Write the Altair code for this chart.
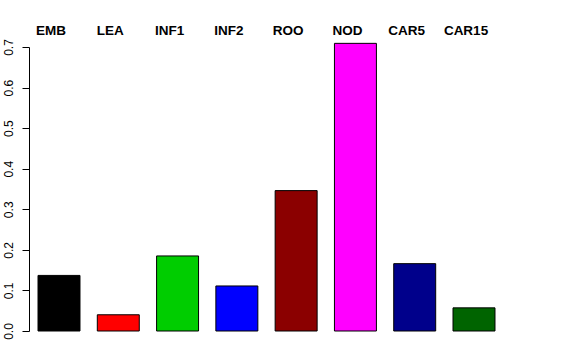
import altair as alt
import pandas as pd

categories = ["EMB", "LEA", "INF1", "INF2", "ROO", "NOD", "CAR5", "CAR15"]
values = [0.137, 0.040, 0.185, 0.111, 0.346, 0.709, 0.166, 0.057]
colors = ["#000000", "#FF0000", "#00CD00", "#0000FF", "#8B0000", "#FF00FF", "#00008B", "#006400"]
y_ticks = [0.0, 0.1, 0.2, 0.3, 0.4, 0.5, 0.6, 0.7]

df = pd.DataFrame({"cat": categories, "val": values, "col": colors})

chart = alt.Chart(df).mark_bar(stroke="black", strokeWidth=1).encode(
    x=alt.X("cat:N", sort=categories,
            scale=alt.Scale(paddingInner=0.292, paddingOuter=0.152),
            axis=alt.Axis(orient="top", title=None, domain=False, ticks=False, tickSize=0,
                          labelAngle=0, labelFont="Liberation Sans", labelFontWeight="bold",
                          labelFontSize=13.5, labelColor="black", labelPadding=10, labelOffset=-8)),
    y=alt.Y("val:Q", scale=alt.Scale(domain=[0, 0.7], nice=False, zero=True),
            axis=alt.Axis(title=None, values=y_ticks, format=".1f", grid=False,
                          domainColor="black", tickColor="black", tickSize=7,
                          labelAngle=-90, labelAlign="center", labelBaseline="bottom",
                          labelFont="Liberation Sans", labelFontSize=12, labelColor="black",
                          labelPadding=7)),
    color=alt.Color("col:N", scale=None, legend=None),
).properties(
    width=475, height=284,
    background="white",
    autosize=alt.AutoSizeParams(type="none"),
    padding={"left": 29, "top": 47, "right": 72, "bottom": 29},
).configure_view(stroke=None)

chart.save("out.html", embed_options={"renderer": "svg", "actions": False})
